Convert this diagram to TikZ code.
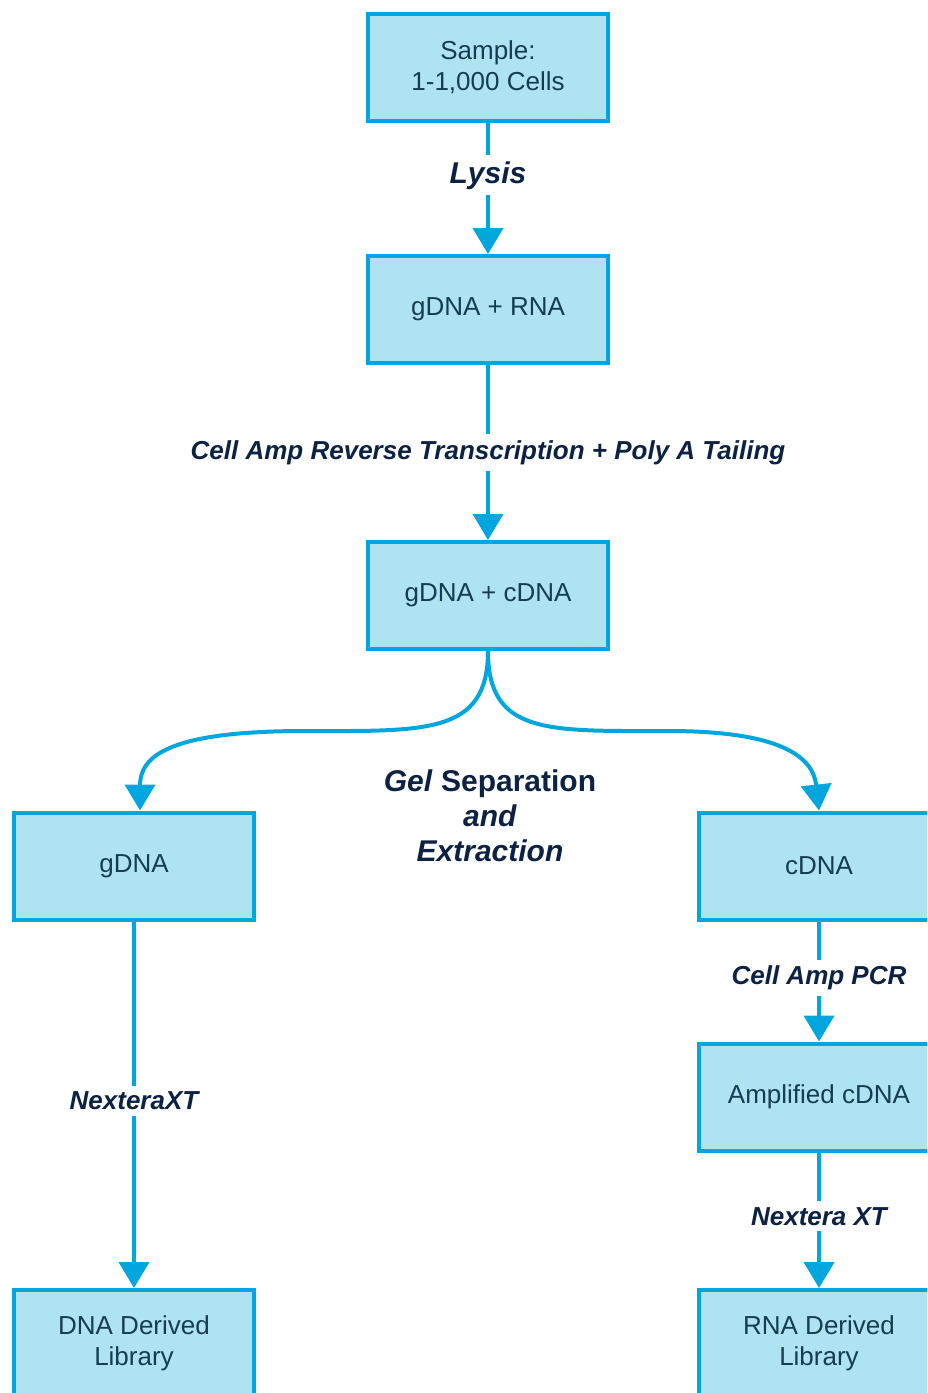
\documentclass[tikz,border=0pt]{standalone}
\usepackage{fontspec}
\setmainfont{Liberation Sans}
\usetikzlibrary{arrows.meta}
\definecolor{flowcyan}{RGB}{0,166,221}
\definecolor{boxfill}{RGB}{176,227,242}
\definecolor{boxtext}{RGB}{20,62,80}
\definecolor{labelnavy}{RGB}{12,34,66}
\tikzset{
  % Process box (light cyan body, cyan frame).
  stage/.style={
    rectangle, draw=flowcyan, line width=2pt,
    fill=boxfill,
    minimum width=120pt, minimum height=53.5pt,
    align=center,
    text=boxtext,
    font=\fontsize{13}{15.5}\selectfont,
  },
  % Arrows.
  flow/.style={
    -{Triangle[length=13pt, width=15pt]},
    line width=2pt,
    draw=flowcyan,
  },
  % Step labels sitting on the arrows.
  flow-label/.style={
    fill=white, text=labelnavy,
    inner xsep=1pt, inner ysep=3pt,
    font=\fontsize{13}{15.5}\selectfont\bfseries\itshape,
  },
  flow-label-big/.style={
    flow-label,
    font=\fontsize{15}{17.5}\selectfont\bfseries\itshape,
  },
}

\begin{document}
\begin{tikzpicture}[x=0.5pt, y=-0.5pt]
  \path[use as bounding box, clip] (0,0) rectangle (927,1393);

  % Main column.
  \node[stage] (sample) at (488, 67.5) {Sample:\\1-1,000 Cells};
  \node[stage] (rna)    at (488, 309.5) {gDNA + RNA};
  \node[stage] (mix)    at (488, 595.5) {gDNA + cDNA};

  % Split branches.
  \node[stage] (gdna)   at (134, 866) {gDNA};
  \node[stage] (cdna)   at (819, 866) {cDNA};
  \node[stage] (amp)    at (819, 1097) {Amplified cDNA};
  \node[stage] (dnalib) at (134, 1343.5) {DNA Derived\\Library};
  \node[stage] (rnalib) at (819, 1343.5) {RNA Derived\\Library};

  \draw[flow] (sample) -- node[flow-label-big, pos=0.4] {Lysis} (rna);
  \draw[flow] (rna) -- node[flow-label] {Cell Amp Reverse Transcription + Poly A Tailing} (mix);

  % Gel separation fork.
  \coordinate (forkL) at (305, 731);
  \coordinate (forkR) at (668, 731);
  \draw[flow] (mix.south) .. controls +(0,84) and +(120,0) .. (forkL)
    .. controls +(-135,0) and +(0,-55) .. ([xshift=3pt]gdna.north);
  \draw[flow] (mix.south) .. controls +(0,84) and +(-120,0) .. (forkR)
    .. controls +(110,0) and +(-6,-55) .. (cdna.north);
  \node[align=center, text=labelnavy,
        font=\fontsize{15}{17.5}\selectfont\bfseries] (gel) at (490, 816)
    {\textit{Gel} Separation\\\textit{and}\\\textit{Extraction}};

  \draw[flow] (gdna) -- node[flow-label, pos=0.49] {NexteraXT} (dnalib);
  \draw[flow] (cdna) -- node[flow-label, pos=0.47] {Cell Amp PCR} (amp);
  \draw[flow] (amp) -- node[flow-label, pos=0.47] {Nextera XT} (rnalib);
\end{tikzpicture}
\end{document}
